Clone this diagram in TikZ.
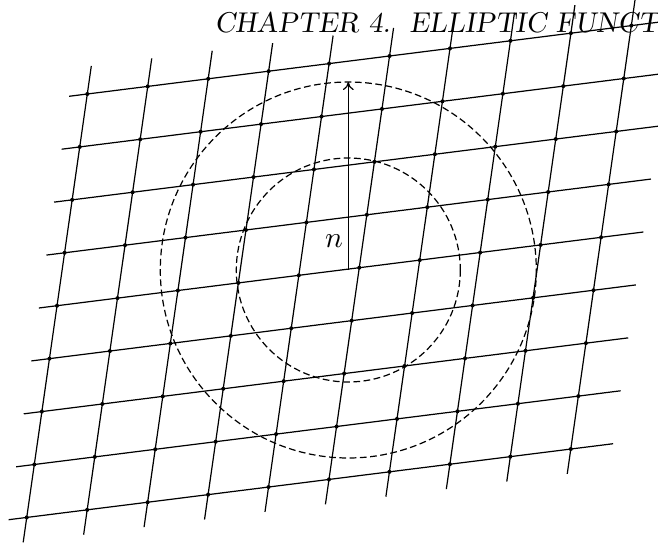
\documentclass[tikz,border=0pt]{standalone}
\usetikzlibrary{arrows.meta,calc}
\begin{document}
\begin{tikzpicture}[x=0.37037pt,y=-0.37037pt,
  latline/.style={line width=0.45pt},
  circ/.style={line width=0.45pt,dash pattern=on 2.5pt off 1.3pt},
]
\useasboundingbox (0,0) rectangle (658,546);
\clip (0,0) rectangle (658,546);
\def\ox{87.3}\def\oy{94}
\def\ax{60.45}\def\ay{-7.6}
\def\bx{-7.57}\def\by{52.93}
\node[anchor=base west,font=\fontsize{10.6}{13}\slshape,inner sep=0pt] (hdr) at (214,32.3) {CHAPTER 4.\ \ ELLIPTIC FUNCT};
\foreach \j in {0,...,8}{
  \coordinate (rs\j) at ({\ox-0.3*\ax+\j*\bx},{\oy-0.3*\ay+\j*\by});
  \coordinate (re\j) at ({\ox+9.7*\ax+\j*\bx},{\oy+9.7*\ay+\j*\by});
  \draw[latline] (rs\j) -- (re\j);
}
\foreach \i in {0,...,9}{
  \coordinate (cs\i) at ({\ox+\i*\ax-0.53*\bx},{\oy+\i*\ay-0.53*\by});
  \coordinate (ce\i) at ({\ox+\i*\ax+8.47*\bx},{\oy+\i*\ay+8.47*\by});
  \draw[latline] (cs\i) -- (ce\i);
}
\foreach \i in {0,...,9}{\foreach \j in {0,...,8}{
  \fill ({\ox+\i*\ax+\j*\bx},{\oy+\i*\ay+\j*\by}) coordinate (p\i-\j) circle[radius=2];
}}
\coordinate (c) at (348.3,270);
\draw[circ] (c) circle[radius=188];
\draw[circ] (c) circle[radius=112];
\coordinate (top) at (348.3,82);
\draw[latline,-{To[length=3pt,width=4pt]}] (c) -- (top);
\node[inner sep=0pt,font=\fontsize{11.2}{13}\selectfont] (n) at (334,241) {$n$};
\end{tikzpicture}
\end{document}
